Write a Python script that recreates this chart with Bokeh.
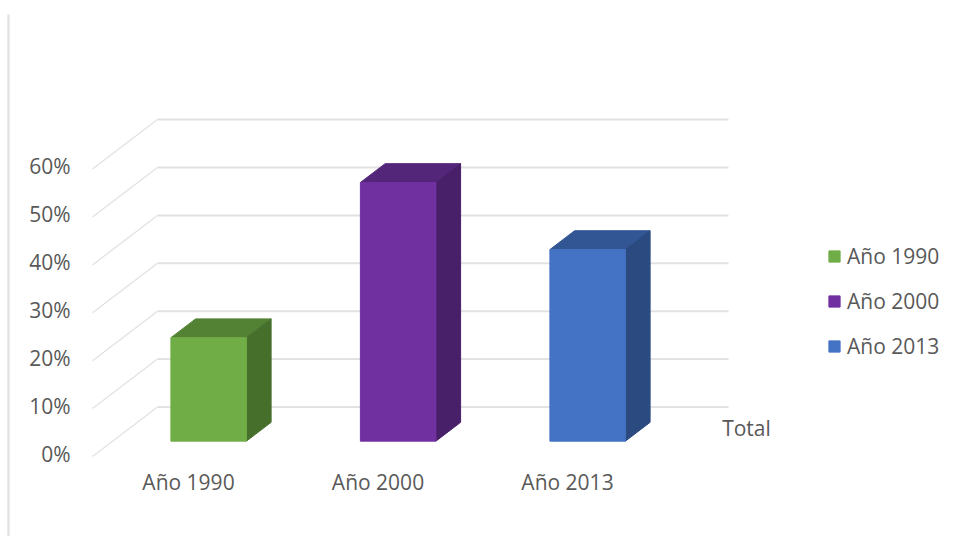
from bokeh.plotting import figure
from bokeh.models import Range1d, FixedTicker, PrintfTickFormatter, Legend, LegendItem, LinearAxis
from bokeh.embed import file_html
from bokeh.resources import INLINE
from bokeh.core.properties import value

categories = ["Año 1990", "Año 2000", "Año 2013"]
values = [21.6, 54.0, 40.0]
y_ticks = [0, 10, 20, 30, 40, 50, 60]
front_colors = ["#70AD47", "#7030A0", "#4472C4"]
top_colors = ["#548235", "#54267A", "#325694"]
side_colors = ["#466F2C", "#481F69", "#2A4A80"]
series_label = "Total"

W, H = 953, 536
PX_X = 189.5   # px per category
PX_Y = 4.79    # px per percentage point
X0, Y0 = 188.0, 456.0  # px of category 0 / 0% on the front plane
DX = 65 / PX_X
DY = 49.5 / PX_Y
BAR = 75.5 / PX_X
D0, D1 = 0.31, 0.69
GRID_END = (728 - 65 - X0) / PX_X
GRID_START = (92 - X0) / PX_X
LABEL_LIFT = 3 / PX_Y

p = figure(width=W, height=H, output_backend="svg", toolbar_location=None,
           x_range=Range1d((0 - X0) / PX_X, (W - X0) / PX_X),
           y_range=Range1d((Y0 - H) / PX_Y, Y0 / PX_Y),
           min_border=0, min_border_left=0, min_border_right=0,
           min_border_top=0, min_border_bottom=0, outline_line_color=None,
           x_axis_location=None, y_axis_location=None)
p.extra_y_ranges = {"labels": Range1d((Y0 - H) / PX_Y - LABEL_LIFT, Y0 / PX_Y - LABEL_LIFT)}
p.grid.visible = False

def proj(x, y, d):
    return x + DX * d, y + DY * d

GRID = "#E2E2E2"
for t in y_ticks:
    xa, ya = proj(GRID_START, t, 0)
    xb, yb = proj(GRID_START, t, 1)
    xc, yc = proj(GRID_END, t, 1)
    p.line([xa, xb], [ya, yb], line_color=GRID, line_width=1.3)
    p.line([xb, xc], [yb, yc], line_color=GRID, line_width=2)

p.segment([(8 - X0) / PX_X], [(Y0 - 14) / PX_Y], [(8 - X0) / PX_X], [(Y0 - 536) / PX_Y],
          line_color="#E3E3E3", line_width=2.4)

items = []
for i, (cat, v) in enumerate(zip(categories, values)):
    l = i - BAR / 2
    r = i + BAR / 2
    q = [proj(l, v, D0), proj(r, v, D0), proj(r, v, D1), proj(l, v, D1)]
    p.patch([a for a, _ in q], [b for _, b in q], fill_color=top_colors[i], line_color=top_colors[i])
    s = [proj(r, 0, D0), proj(r, v, D0), proj(r, v, D1), proj(r, 0, D1)]
    p.patch([a for a, _ in s], [b for _, b in s], fill_color=side_colors[i], line_color=side_colors[i])
    fl, fb = proj(l, 0, D0)
    fr, ft = proj(r, v, D0)
    g = p.quad(left=[fl], right=[fr], bottom=[fb], top=[ft],
               fill_color=front_colors[i], line_color=front_colors[i])
    items.append(LegendItem(label=value(cat), renderers=[g]))

FONT = "Open Sans"
TXT = "#595959"
FS = "21px"

yax = LinearAxis(ticker=FixedTicker(ticks=y_ticks), formatter=PrintfTickFormatter(format="%d%%"),
                 fixed_location=(70 - X0) / PX_X, y_range_name="labels")
xax = LinearAxis(ticker=FixedTicker(ticks=[0, 1, 2]),
                 major_label_overrides={i: c for i, c in enumerate(categories)},
                 fixed_location=(Y0 - 467.5) / PX_Y)
for ax in (yax, xax):
    ax.axis_line_color = None
    ax.major_tick_line_color = None
    ax.minor_tick_line_color = None
    ax.major_tick_out = 0
    ax.major_tick_in = 0
    ax.major_label_standoff = 0
    ax.major_label_text_font = FONT
    ax.major_label_text_font_size = FS
    ax.major_label_text_color = TXT
p.add_layout(yax, "left")
p.add_layout(xax, "below")

p.text([(746 - X0) / PX_X], [(Y0 - 427.5) / PX_Y], text=[series_label], text_font=value(FONT),
       text_font_size=FS, text_color=TXT, text_align="center", text_baseline="middle")

leg = Legend(items=items, location=(827, H - 359.7), orientation="vertical",
             border_line_color=None, background_fill_color=None, background_fill_alpha=0,
             glyph_width=14, glyph_height=14, label_standoff=6, spacing=17, padding=0, margin=0,
             label_text_font=FONT, label_text_font_size=FS, label_text_color=TXT,
             label_height=20)
p.add_layout(leg, "center")

open("out.html", "w").write(file_html(p, INLINE))
